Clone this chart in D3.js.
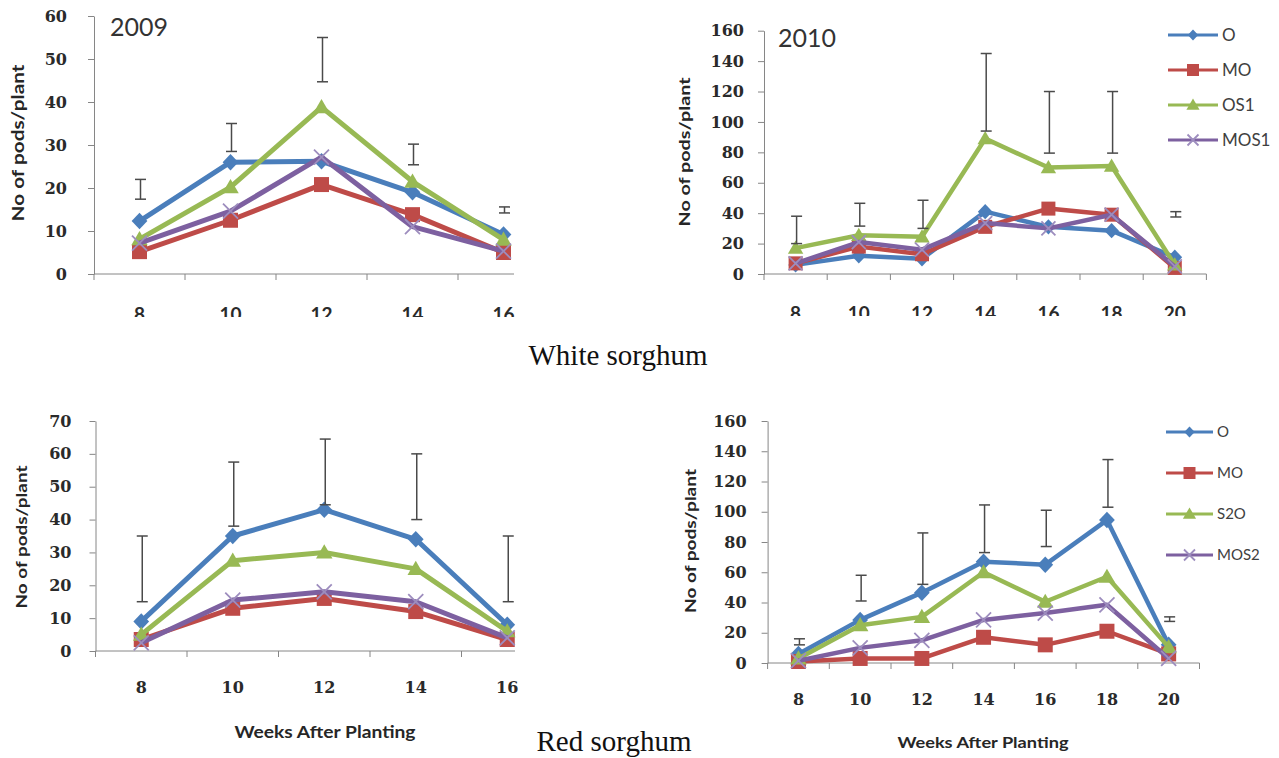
<!DOCTYPE html>
<html><head><meta charset="utf-8">
<script src="https://cdn.jsdelivr.net/npm/d3@7"></script>
<style>body{margin:0;background:#fff;} svg{display:block}</style>
</head><body>
<svg id="c" width="1279" height="758"></svg>
<script>
// ---------- DATA ----------
const weeksShort = [8, 10, 12, 14, 16];
const weeksLong = [8, 10, 12, 14, 16, 18, 20];
const whiteNames = ["O", "MO", "OS1", "MOS1"];
const redNames = ["O", "MO", "S2O", "MOS2"];

const yTicks60 = [0, 10, 20, 30, 40, 50, 60];
const yTicks70 = [0, 10, 20, 30, 40, 50, 60, 70];
const yTicks160 = [0, 20, 40, 60, 80, 100, 120, 140, 160];

// White sorghum 2009
const w09_O    = [12.3, 26, 26.2, 19, 9.2];
const w09_MO   = [5.2, 12.5, 20.8, 13.8, 5];
const w09_OS1  = [8.1, 20.2, 38.8, 21.5, 8];
const w09_MOS1 = [7.2, 14.6, 27.2, 11, 5.3];
const w09_errLow  = [17.4, 28.5, 44.7, 25.4, 14.2];
const w09_errHigh = [22, 35, 55, 30.2, 15.6];

// White sorghum 2010
const w10_O    = [6, 12, 10, 41, 31, 28.5, 11];
const w10_MO   = [7, 18, 13, 31, 43, 39, 4];
const w10_OS1  = [17, 25.5, 24.5, 89, 70, 71, 6];
const w10_MOS1 = [7, 21, 16, 33.5, 30, 39, 5];
const w10_errLow  = [20, 31.5, 30, 94, 79.5, 79.5, 37.5];
const w10_errHigh = [38, 46.5, 48.5, 145, 120, 120, 41];

// Red sorghum (first season)
const r09_O    = [9, 35, 43, 34, 8];
const r09_MO   = [3.5, 13, 16, 12, 3.5];
const r09_S2O  = [5, 27.5, 30, 25, 6];
const r09_MOS2 = [2.5, 15.5, 18, 15, 4];
const r09_errLow  = [15, 38, 44.5, 40, 15];
const r09_errHigh = [35, 57.5, 64.5, 60, 35];

// Red sorghum (second season)
const r10_O    = [6, 28.5, 46.5, 67, 65, 94.5, 12];
const r10_MO   = [1, 3, 3, 17, 12, 21, 6];
const r10_S2O  = [3, 25, 30.5, 60, 40.5, 57, 10.5];
const r10_MOS2 = [1.5, 10, 15, 28.5, 33, 38.5, 3];
const r10_errLow  = [12, 41, 52, 73, 77, 103, 27.5];
const r10_errHigh = [16, 58, 86, 104.5, 101, 134.5, 30.5];

// ---------- STYLE ----------
const COL = ["#4A7EBB", "#BE4B48", "#98B954", "#7D60A0"];
const XCOL = "#9D8DBE";
const MARK = ["diamond", "square", "triangle", "x"];
const AXIS = "#868686";
const TICKFONT = "'DejaVu Serif', 'Liberation Serif', serif";
const SANS = "Lato, 'Open Sans', sans-serif";

const svg = d3.select("#c");
const defs = svg.append("defs");

function markerPath(type, s) {
  const r = s / 2;
  if (type === "diamond") return `M0,${-r * 1.1}L${r * 1.05},0L0,${r * 1.1}L${-r * 1.05},0Z`;
  if (type === "square") return `M${-r},${-r}H${r}V${r}H${-r}Z`;
  if (type === "triangle") { const h = s * 0.9; return `M0,${-h * 0.6}L${r * 1.1},${h * 0.45}L${-r * 1.1},${h * 0.45}Z`; }
  return `M${-r},${-r}L${r},${r}M${r},${-r}L${-r},${r}`;
}

function drawMarker(g, type, color, px, py, s) {
  const p = g.append("path").attr("d", markerPath(type, s)).attr("transform", `translate(${px},${py})`);
  if (type === "x") p.attr("fill", "none").attr("stroke", XCOL).attr("stroke-width", 1.8);
  else p.attr("fill", color).attr("stroke", "none");
}

let clipId = 0;
function panel(cfg) {
  const g = svg.append("g");
  const n = cfg.weeks.length;
  const x = d3.scaleBand().domain(cfg.weeks).range([cfg.x0, cfg.x0 + n * cfg.step]).padding(0);
  const y = d3.scaleLinear().domain([0, cfg.yMax]).range([cfg.y0, cfg.yTop]);
  const cx = w => x(w) + x.bandwidth() / 2;

  // y axis
  const ya = g.append("g").attr("transform", `translate(${cfg.x0},0)`)
    .call(d3.axisLeft(y).tickValues(cfg.yTicks).tickSize(6).tickSizeOuter(0).tickPadding(cfg.yPad).tickFormat(d3.format("d")));
  ya.select(".domain").attr("stroke", AXIS);
  ya.selectAll(".tick line").attr("stroke", AXIS);
  ya.selectAll(".tick text").attr("font-family", TICKFONT).attr("font-weight", "bold")
    .attr("font-size", cfg.yFont).attr("fill", "#2a2a2a");

  // x axis
  g.append("line").attr("x1", cfg.x0).attr("x2", cfg.xEnd).attr("y1", cfg.y0).attr("y2", cfg.y0)
    .attr("stroke", AXIS).attr("stroke-width", 1);
  const bounds = cfg.weeks.map(w => x(w)).concat([x(cfg.weeks[n - 1]) + x.bandwidth()]).filter(b => b <= cfg.xEnd + 0.5);
  g.selectAll(null).data(bounds).join("line")
    .attr("x1", d => d).attr("x2", d => d).attr("y1", cfg.y0).attr("y2", cfg.y0 + 6)
    .attr("stroke", AXIS);

  // x labels
  let lg = g.append("g");
  if (cfg.clipY) {
    const id = "clip" + (clipId++);
    defs.append("clipPath").attr("id", id).append("rect")
      .attr("x", cfg.x0 - 20).attr("y", 0).attr("width", n * cfg.step + 60).attr("height", cfg.clipY);
    lg.attr("clip-path", `url(#${id})`);
  }
  lg.selectAll(null).data(cfg.weeks).join("text")
    .attr("x", d => cx(d)).attr("y", cfg.xLabY).attr("text-anchor", "middle")
    .attr("font-family", cfg.xLabFamily).attr("font-weight", "bold").attr("font-size", cfg.xLabFont)
    .attr("fill", "#2a2a2a").text(d => d);

  // series
  const line = d3.line().x((d, i) => cx(cfg.weeks[i])).y(d => y(d));
  cfg.series.forEach((vals, si) => {
    const sg = g.append("g");
    sg.append("path").attr("d", line(vals)).attr("fill", "none").attr("stroke", COL[si])
      .attr("stroke-width", cfg.lw).attr("stroke-linejoin", "round");
    vals.forEach((v, i) => drawMarker(sg, MARK[si], COL[si], cx(cfg.weeks[i]), y(v), cfg.ms));
  });

  // error bars
  const eg = g.append("g").attr("stroke", "#4a4a4a").attr("stroke-width", 1.5);
  cfg.weeks.forEach((w, i) => {
    const px = cx(w) + 1, lo = y(cfg.errLow[i]), hi = y(cfg.errHigh[i]);
    eg.append("line").attr("x1", px).attr("x2", px).attr("y1", lo).attr("y2", hi);
    eg.append("line").attr("x1", px - 5.5).attr("x2", px + 5.5).attr("y1", lo).attr("y2", lo);
    eg.append("line").attr("x1", px - 5.5).attr("x2", px + 5.5).attr("y1", hi).attr("y2", hi);
  });

  // y title
  g.append("text").attr("transform", `translate(${cfg.yTitleX},${cfg.yTitleY}) rotate(-90)`)
    .attr("text-anchor", "middle").attr("dy", "0.35em")
    .attr("font-family", SANS).attr("font-weight", "bold").attr("font-size", cfg.yTitleFont)
    .attr("textLength", cfg.yTitleLen).attr("lengthAdjust", "spacingAndGlyphs")
    .attr("fill", "#262626").text("No of pods/plant");

  if (cfg.title) {
    g.append("text").attr("x", cfg.title.x).attr("y", cfg.title.y)
      .attr("font-family", SANS).attr("font-size", 25).attr("fill", "#333").text(cfg.title.text);
  }
  if (cfg.xTitle) {
    g.append("text").attr("x", cfg.xTitle.x).attr("y", cfg.xTitle.y).attr("text-anchor", "middle")
      .attr("font-family", SANS).attr("font-weight", "bold").attr("font-size", cfg.xTitle.size)
      .attr("textLength", cfg.xTitle.len).attr("lengthAdjust", "spacingAndGlyphs")
      .attr("fill", "#262626").text("Weeks After Planting");
  }
  if (cfg.legend) {
    const L = cfg.legend;
    cfg.names.forEach((nm, si) => {
      const ly = L.y0 + si * L.dy;
      g.append("line").attr("x1", L.x1).attr("x2", L.x2).attr("y1", ly).attr("y2", ly)
        .attr("stroke", COL[si]).attr("stroke-width", 3);
      const ms = [10, 12, 12, 11][si];
      drawMarker(g, MARK[si], COL[si], (L.x1 + L.x2) / 2, ly, ms);
      g.append("text").attr("x", L.tx).attr("y", ly).attr("dy", "0.35em")
        .attr("font-family", SANS).attr("font-size", L.font).attr("fill", "#404040").text(nm);
    });
  }
}

panel({
  weeks: weeksShort, x0: 94, step: 91, xEnd: 514, y0: 274, yTop: 16, yMax: 60, yTicks: yTicks60,
  yPad: 21, yFont: 16, xLabY: 321, clipY: 317, xLabFamily: SANS, xLabFont: 19,
  series: [w09_O, w09_MO, w09_OS1, w09_MOS1], errLow: w09_errLow, errHigh: w09_errHigh,
  lw: 5, ms: 15, yTitleX: 18, yTitleY: 143, yTitleFont: 17, yTitleLen: 157,
  title: { x: 110, y: 36, text: "2009" }, names: whiteNames
});

panel({
  weeks: weeksLong, x0: 764, step: 63.2, xEnd: 764 + 7 * 63.2, y0: 274, yTop: 30.7, yMax: 160, yTicks: yTicks160,
  yPad: 14, yFont: 16, xLabY: 320, clipY: 316, xLabFamily: SANS, xLabFont: 19,
  series: [w10_O, w10_MO, w10_OS1, w10_MOS1], errLow: w10_errLow, errHigh: w10_errHigh,
  lw: 4.5, ms: 14, yTitleX: 684, yTitleY: 152, yTitleFont: 16, yTitleLen: 149,
  title: { x: 778, y: 47, text: "2010" }, names: whiteNames,
  legend: { x1: 1168, x2: 1218, tx: 1222, y0: 35, dy: 35, font: 17 }
});

panel({
  weeks: weeksShort, x0: 95.5, step: 91.5, xEnd: 515, y0: 651, yTop: 421, yMax: 70, yTicks: yTicks70,
  yPad: 18, yFont: 16, xLabY: 693, xLabFamily: TICKFONT, xLabFont: 16,
  series: [r09_O, r09_MO, r09_S2O, r09_MOS2], errLow: r09_errLow, errHigh: r09_errHigh,
  lw: 5, ms: 15, yTitleX: 21, yTitleY: 537, yTitleFont: 16, yTitleLen: 143,
  xTitle: { x: 325, y: 738, size: 17, len: 181 }, names: redNames
});

panel({
  weeks: weeksLong, x0: 767.6, step: 61.7, xEnd: 767.6 + 7 * 61.7, y0: 663, yTop: 421, yMax: 160, yTicks: yTicks160,
  yPad: 15, yFont: 16, xLabY: 705, xLabFamily: TICKFONT, xLabFont: 16,
  series: [r10_O, r10_MO, r10_S2O, r10_MOS2], errLow: r10_errLow, errHigh: r10_errHigh,
  lw: 4.5, ms: 15, yTitleX: 690, yTitleY: 541, yTitleFont: 16, yTitleLen: 144,
  xTitle: { x: 983, y: 748, size: 16, len: 171 }, names: redNames,
  legend: { x1: 1166, x2: 1213, tx: 1217, y0: 432, dy: 41, font: 15 }
});

// captions
svg.append("text").attr("x", 618).attr("y", 365).attr("text-anchor", "middle")
  .attr("font-family", "'Liberation Serif', 'Times New Roman', serif").attr("font-size", 29)
  .attr("fill", "#111").text("White sorghum");
svg.append("text").attr("x", 614).attr("y", 751).attr("text-anchor", "middle")
  .attr("font-family", "'Liberation Serif', 'Times New Roman', serif").attr("font-size", 29)
  .attr("fill", "#111").text("Red sorghum");
</script>
</body></html>
